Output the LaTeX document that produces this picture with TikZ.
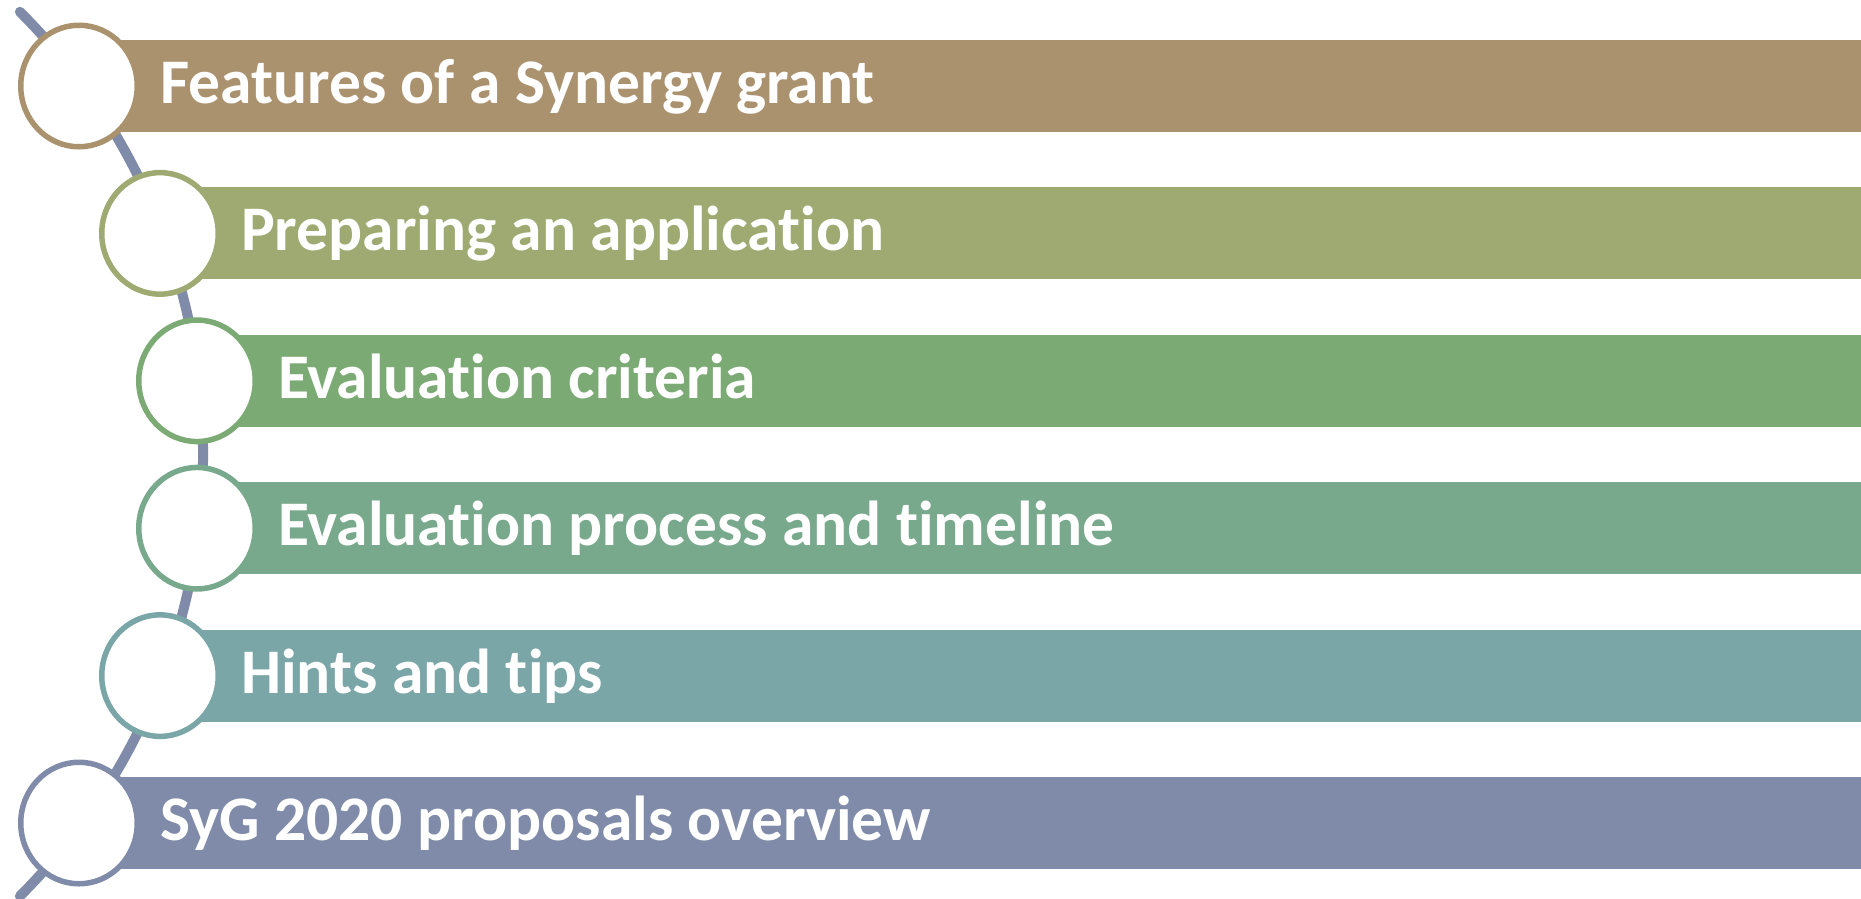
\documentclass[tikz,border=0pt]{standalone}
\usepackage{fontspec}
\setmainfont{Carlito}[Ligatures=NoCommon]
\usetikzlibrary{shapes.geometric}
\definecolor{cA}{HTML}{AB926F}
\definecolor{cB}{HTML}{9EAA72}
\definecolor{cC}{HTML}{7CAA74}
\definecolor{cD}{HTML}{79A98D}
\definecolor{cE}{HTML}{7BA6A8}
\definecolor{cF}{HTML}{7F8BA8}
\tikzset{
  barbox/.style={rectangle, anchor=west, minimum height=92pt, inner sep=0pt, draw=none},
  ring/.style={ellipse, draw, fill=white, line width=5.5pt, minimum width=116.5pt, minimum height=121.5pt, inner sep=0pt},
  lbl/.style={anchor=base west, inner sep=0pt, text=white, font=\fontsize{63.5}{72}\selectfont\bfseries},
  spine/.style={draw=cF, line width=10pt, line cap=round}
}
\begin{document}
\begin{tikzpicture}[x=1pt,y=-1pt]
\useasboundingbox (0,0) rectangle (1861,898);
\coordinate (top) at (19.9,11.8);
\draw[spine] (top) arc[start angle=-45, end angle=45, radius=625.3];
% bars
\node[barbox, fill=cA, minimum width=1790pt] (b1) at (79,86) {};
\node[barbox, fill=cB, minimum width=1710pt] (b2) at (160,233.4) {};
\node[barbox, fill=cC, minimum width=1670pt] (b3) at (197,380.8) {};
\node[barbox, fill=cD, minimum width=1670pt] (b4) at (197,528.2) {};
\node[barbox, fill=cE, minimum width=1710pt] (b5) at (160,675.6) {};
\node[barbox, fill=cF, minimum width=1790pt] (b6) at (79,823) {};
% circles
\node[ring, draw=cA] (c1) at (79,86) {};
\node[ring, draw=cB] (c2) at (160,233.4) {};
\node[ring, draw=cC] (c3) at (197,380.8) {};
\node[ring, draw=cD] (c4) at (197,528.2) {};
\node[ring, draw=cE] (c5) at (160,675.6) {};
\node[ring, draw=cF] (c6) at (79,823) {};
% labels
\node[lbl] (t1) at (160,103.5) {Features of a Synergy grant};
\node[lbl] (t2) at (241,250.9) {Preparing an application};
\node[lbl] (t3) at (278,398.3) {Evaluation criteria};
\node[lbl] (t4) at (278,545.7) {Evaluation process and timeline};
\node[lbl] (t5) at (241,693.1) {Hints and tips};
\node[lbl] (t6) at (160,840.5) {SyG 2020 proposals overview};
\end{tikzpicture}
\end{document}
